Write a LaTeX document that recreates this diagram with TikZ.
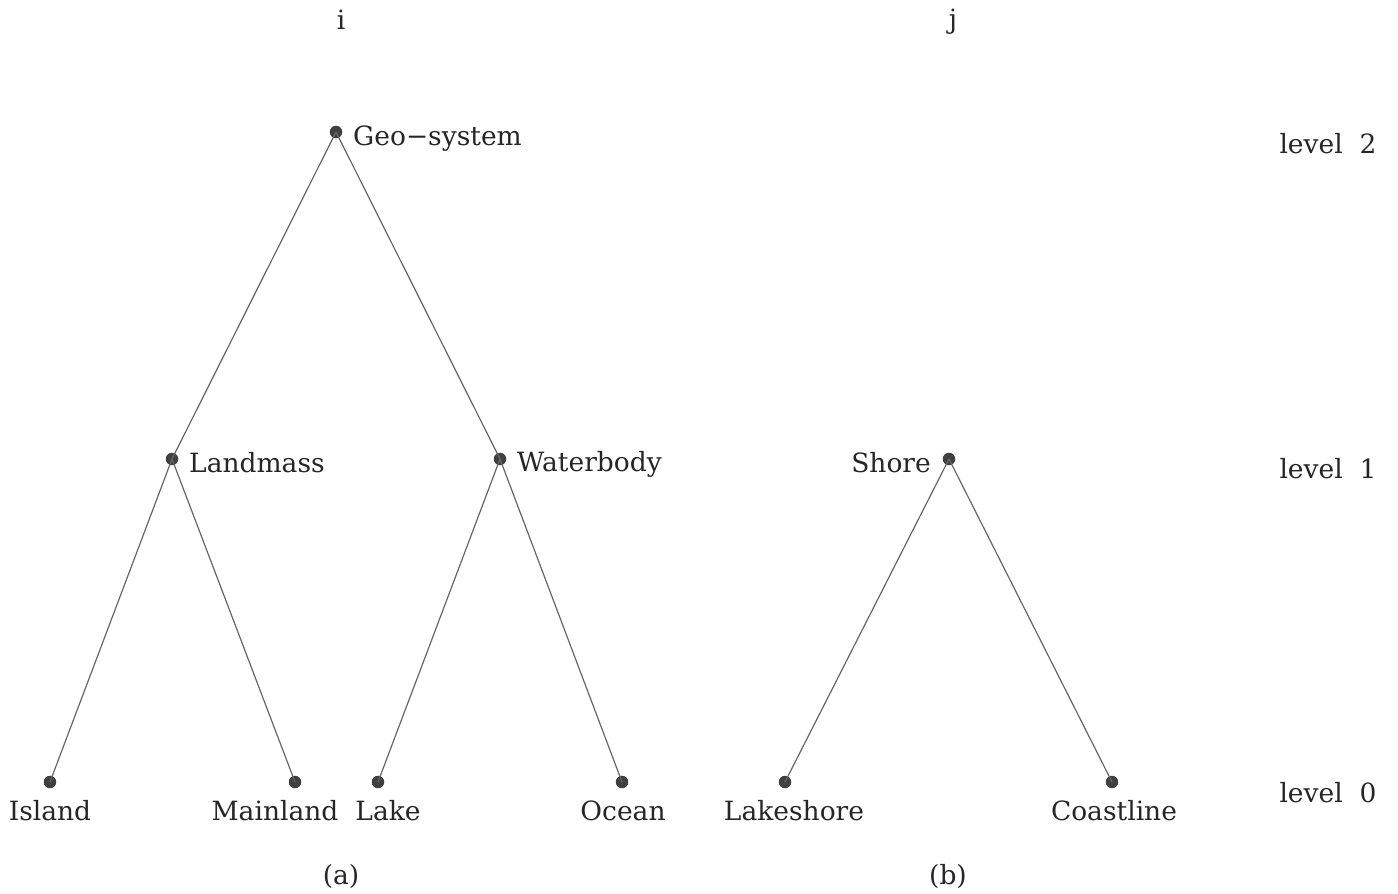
\documentclass[tikz,border=0pt]{standalone}
\usepackage{fontspec}
\setmainfont{DejaVu Serif}
\begin{document}
\begin{tikzpicture}[x=1pt,y=-1pt,
  dot/.style={circle,fill=black!75,inner sep=0pt,minimum size=12.5pt},
  lab/.style={font=\fontsize{26.5}{30}\selectfont,text=black!85,inner sep=0pt},
  edge/.style={draw=black!60,line width=1.2pt}]
\useasboundingbox (0,0) rectangle (1398,894);
% dots
\node[dot] (geo) at (336,132) {};
\node[dot] (land) at (172,459) {};
\node[dot] (water) at (500,459) {};
\node[dot] (shore) at (949,459) {};
\node[dot] (island) at (50,782) {};
\node[dot] (main) at (295,782) {};
\node[dot] (lake) at (378,782) {};
\node[dot] (ocean) at (622,782) {};
\node[dot] (lshore) at (785,782) {};
\node[dot] (coast) at (1112,782) {};
% edges
\draw[edge] (geo.center) -- (land.center);
\draw[edge] (geo.center) -- (water.center);
\draw[edge] (land.center) -- (island.center);
\draw[edge] (land.center) -- (main.center);
\draw[edge] (water.center) -- (lake.center);
\draw[edge] (water.center) -- (ocean.center);
\draw[edge] (shore.center) -- (lshore.center);
\draw[edge] (shore.center) -- (coast.center);
% labels
\node[lab,anchor=west] (tgeo) at (353,139) {Geo\char"2212 system};
\node[lab,anchor=west] (tland) at (189,463) {Landmass};
\node[lab,anchor=west] (twater) at (517,464) {Waterbody};
\node[lab,anchor=east] (tshore) at (931,463) {Shore};
\node[lab] (tisland) at (50,811) {Island};
\node[lab] (tmain) at (275,811) {Mainland};
\node[lab] (tlake) at (388,811) {Lake};
\node[lab] (tocean) at (623,811) {Ocean};
\node[lab] (tlshore) at (794,811) {Lakeshore};
\node[lab] (tcoast) at (1114,811) {Coastline};
\node[lab] (l2) at (1328,144) {level\ \ 2};
\node[lab] (l1) at (1328,469) {level\ \ 1};
\node[lab] (l0) at (1328,793) {level\ \ 0};
\node[lab] (ti) at (341,20) {i};
\node[lab] (tj) at (953,22) {j};
\node[lab] (ta) at (341,876) {(a)};
\node[lab] (tb) at (948,876) {(b)};
\end{tikzpicture}
\end{document}
